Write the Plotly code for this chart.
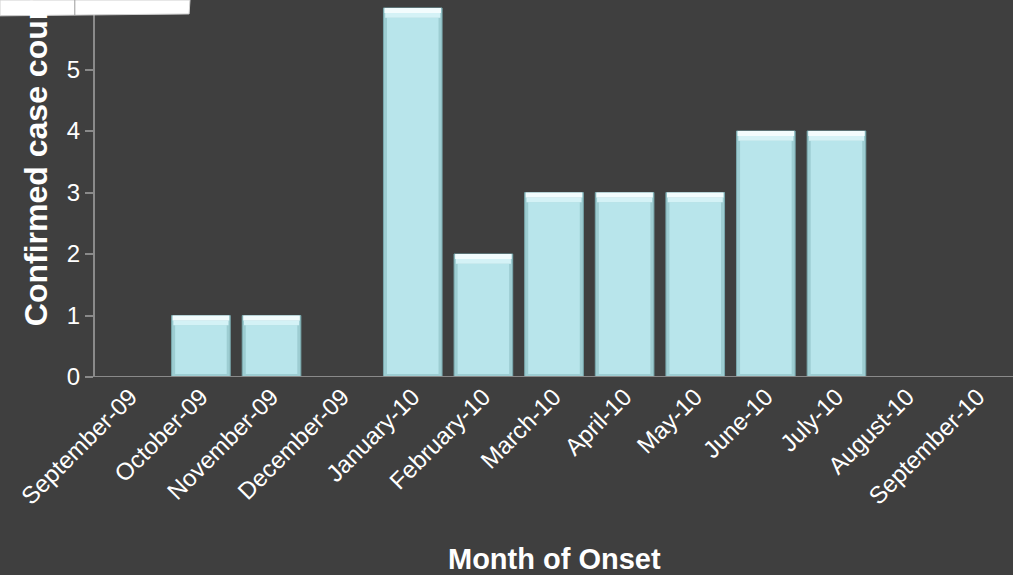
import plotly.graph_objects as go

# Data
months = ['September-09', 'October-09', 'November-09', 'December-09', 'January-10',
          'February-10', 'March-10', 'April-10', 'May-10', 'June-10', 'July-10',
          'August-10', 'September-10']
cases = [0, 1, 1, 0, 6, 2, 3, 3, 3, 4, 4, 0, 0]
y_ticks = [0, 1, 2, 3, 4, 5]

BG = '#3f3f3f'
AXIS = '#8a8a8a'
FONT = 'Arial, Liberation Sans, sans-serif'

# bevel helpers derived from the data
edge = 0.05
top_h = 0.16
body_base = [edge if v > 0 else None for v in cases]
body_h = [v - edge - top_h if v > 0 else None for v in cases]
hi_base = [v - top_h if v > 0 else None for v in cases]
hi_h = [top_h / 2 if v > 0 else None for v in cases]
hi2_base = [v - top_h / 2 if v > 0 else None for v in cases]

fig = go.Figure()

# outer bar (dark bevel edge)
fig.add_trace(go.Bar(
    x=months, y=cases, width=0.83,
    marker=dict(color='#9dcdd2', line=dict(color='#7aa9ae', width=1)),
    hoverinfo='x+y'
))
# bar body
fig.add_trace(go.Bar(
    x=months, y=body_h, base=body_base, width=0.73,
    marker=dict(color='#b8e5eb', line=dict(width=0)),
    hoverinfo='skip'
))
# top highlight
fig.add_trace(go.Bar(
    x=months, y=hi_h, base=hi_base, width=0.78,
    marker=dict(color='#d4f2f6', line=dict(width=0)),
    hoverinfo='skip'
))
fig.add_trace(go.Bar(
    x=months, y=hi_h, base=hi2_base, width=0.80,
    marker=dict(color='#f2fcfd', line=dict(width=0)),
    hoverinfo='skip'
))

fig.update_layout(
    width=1013, height=575,
    margin=dict(l=95, r=0, t=0, b=198),
    paper_bgcolor=BG, plot_bgcolor=BG,
    barmode='overlay',
    showlegend=False,
    font=dict(family=FONT, color='white', size=24),
    xaxis=dict(
        tickangle=-45, showgrid=False, zeroline=False,
        showline=False, ticks='',
        tickfont=dict(size=24, color='white'),
        range=[-0.5, 12.5]
    ),
    yaxis=dict(
        range=[0, 6.13], tickvals=y_ticks, showgrid=False, zeroline=False,
        showline=True, linecolor=AXIS, linewidth=2,
        ticks='outside', ticklen=8, tickcolor=AXIS, tickwidth=2,
        tickfont=dict(size=24, color='white')
    ),
)

# baseline along y = 0
fig.add_shape(type='line', xref='paper', yref='y', x0=-0.009, x1=1, y0=0, y1=0,
              line=dict(color=AXIS, width=2))

# axis titles
fig.add_annotation(text='<b>Month of Onset</b>', xref='paper', yref='paper',
                   x=0.5, y=-0.484, yanchor='middle', showarrow=False,
                   font=dict(size=29, color='white', family=FONT))
fig.add_annotation(text='<b>Confirmed case count</b>', xref='paper', yref='y',
                   x=-0.065, y=0.8, xanchor='center', yanchor='bottom',
                   textangle=-90, showarrow=False,
                   font=dict(size=32, color='white', family=FONT))

# white box cut off at the top left
fig.add_shape(type='path', xref='paper', yref='paper',
              path='M -0.1035 1.0 L 0.1035 1.0 L 0.1025 0.963 L -0.1035 0.958 Z',
              fillcolor='white', line=dict(color='#cfcfcf', width=1), layer='above')
fig.add_shape(type='line', xref='paper', yref='paper', x0=-0.022, x1=-0.022,
              y0=0.959, y1=1.0, line=dict(color='#9a9a9a', width=1), layer='above')

fig.write_html("out.html", config={'displayModeBar': False},
               post_script="document.body.style.margin='0';")
